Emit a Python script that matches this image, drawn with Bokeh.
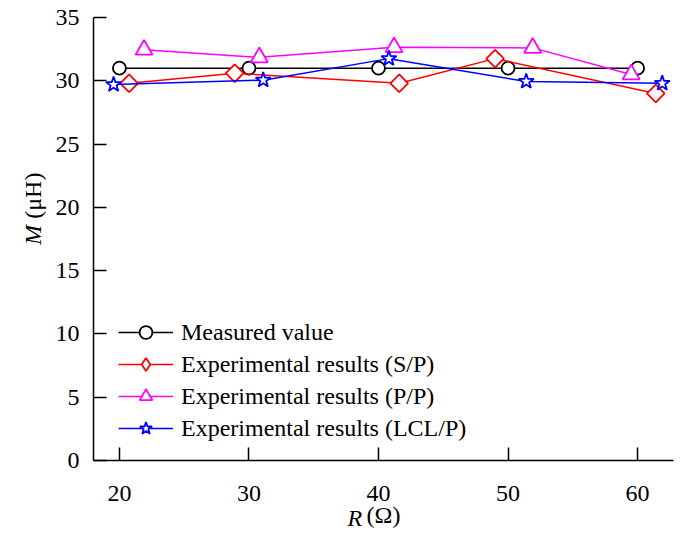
import math
from bokeh.plotting import figure
from bokeh.models import Label, Range1d, FixedTicker, Legend, LegendItem
from bokeh.embed import file_html
from bokeh.resources import INLINE

# ---- data ----
measured_x = [20, 30, 40, 50, 60]
measured_y = [31.0, 31.0, 31.0, 31.0, 31.0]

sp_x = [20.75, 28.9, 41.6, 49.0, 61.4]
sp_y = [29.8, 30.6, 29.8, 31.75, 29.0]

pp_x = [21.9, 30.8, 41.2, 51.9, 59.5]
pp_y = [32.45, 31.85, 32.65, 32.6, 30.5]

lcl_x = [19.55, 31.1, 40.8, 51.4, 61.9]
lcl_y = [29.7, 30.05, 31.75, 29.95, 29.8]

x_ticks = [20, 30, 40, 50, 60]
y_ticks = [0, 5, 10, 15, 20, 25, 30, 35]

labels = ["Measured value", "Experimental results (S/P)",
          "Experimental results (P/P)", "Experimental results (LCL/P)"]

FONT = "Liberation Serif"
FS = "24px"

p = figure(width=688, height=532, output_backend="svg", toolbar_location=None,
           x_range=Range1d(18, 62.77), y_range=Range1d(0, 35),
           min_border_left=92, min_border_right=0, min_border_top=17, min_border_bottom=72)
p.outline_line_color = None
p.grid.grid_line_color = None
p.background_fill_color = "white"
p.border_fill_color = "white"

for ax in (p.xaxis[0], p.yaxis[0]):
    ax.axis_line_color = "black"
    ax.axis_line_width = 1.5
    ax.major_tick_line_color = "black"
    ax.major_tick_line_width = 1.5
    ax.major_tick_in = 13
    ax.major_tick_out = 0
    ax.minor_tick_line_color = None
    ax.major_label_text_font = FONT
    ax.major_label_text_font_size = FS
    ax.major_label_text_color = "black"

p.xaxis.ticker = FixedTicker(ticks=x_ticks)
p.yaxis.ticker = FixedTicker(ticks=y_ticks)
p.xaxis.major_label_standoff = 25
p.yaxis.major_label_standoff = 14

# x title: "(Ω)" is the axis label, the italic "R" is a separate label
p.xaxis.axis_label = "(Ω)"
p.xaxis.axis_label_standoff = -2
p.xaxis.axis_label_text_font = FONT
p.xaxis.axis_label_text_font_size = FS
p.xaxis.axis_label_text_font_style = "normal"
p.xaxis.axis_label_text_color = "black"

series = [
    (measured_x, measured_y, "black", "circle", 13),
    (sp_x, sp_y, "#FF0000", "diamond", 15),
    (pp_x, pp_y, "#FF00FF", "triangle", 17),
    (lcl_x, lcl_y, "#0000FF", "star", 16),
]
items = []
for (xs, ys, col, mk, sz), lab in zip(series, labels):
    lr = p.line(xs, ys, line_color=col, line_width=1.5)
    sr = p.scatter(xs, ys, marker=mk, size=sz, line_color=col, line_width=1.8,
                   fill_color="white")
    if mk == "diamond":
        # the data points are square diamonds: a 45-degree square drawn over the key glyph
        p.scatter(xs, ys, marker="square", size=12.5, angle=math.pi / 4, line_color=col,
                  line_width=1.8, fill_color="white")
    items.append(LegendItem(label=lab, renderers=[lr, sr]))

lg = Legend(items=items, location=(25, 16), padding=0, margin=0, spacing=0,
            glyph_width=55, glyph_height=32, label_height=32, label_standoff=8,
            border_line_color=None, background_fill_alpha=0,
            label_text_font=FONT, label_text_font_size=FS, label_text_color="black")
p.add_layout(lg, "center")

# italic symbols of the axis titles (side panels, positioned in data units)
p.add_layout(Label(x=38.73, y=-4.55, text="R", text_align="right", text_baseline="middle",
                   text_font=FONT, text_font_size=FS, text_font_style="italic",
                   text_color="black"), "right")
p.add_layout(Label(x=13.32, y=18.6, text="M", angle=math.pi / 2, text_align="right",
                   text_baseline="middle", text_font=FONT, text_font_size=FS,
                   text_font_style="italic", text_color="black"), "left")
p.add_layout(Label(x=13.32, y=19.1, text="(μH)", angle=math.pi / 2, text_align="left",
                   text_baseline="middle", text_font=FONT, text_font_size=FS,
                   text_color="black"), "left")

open("out.html", "w").write(file_html(p, INLINE))
